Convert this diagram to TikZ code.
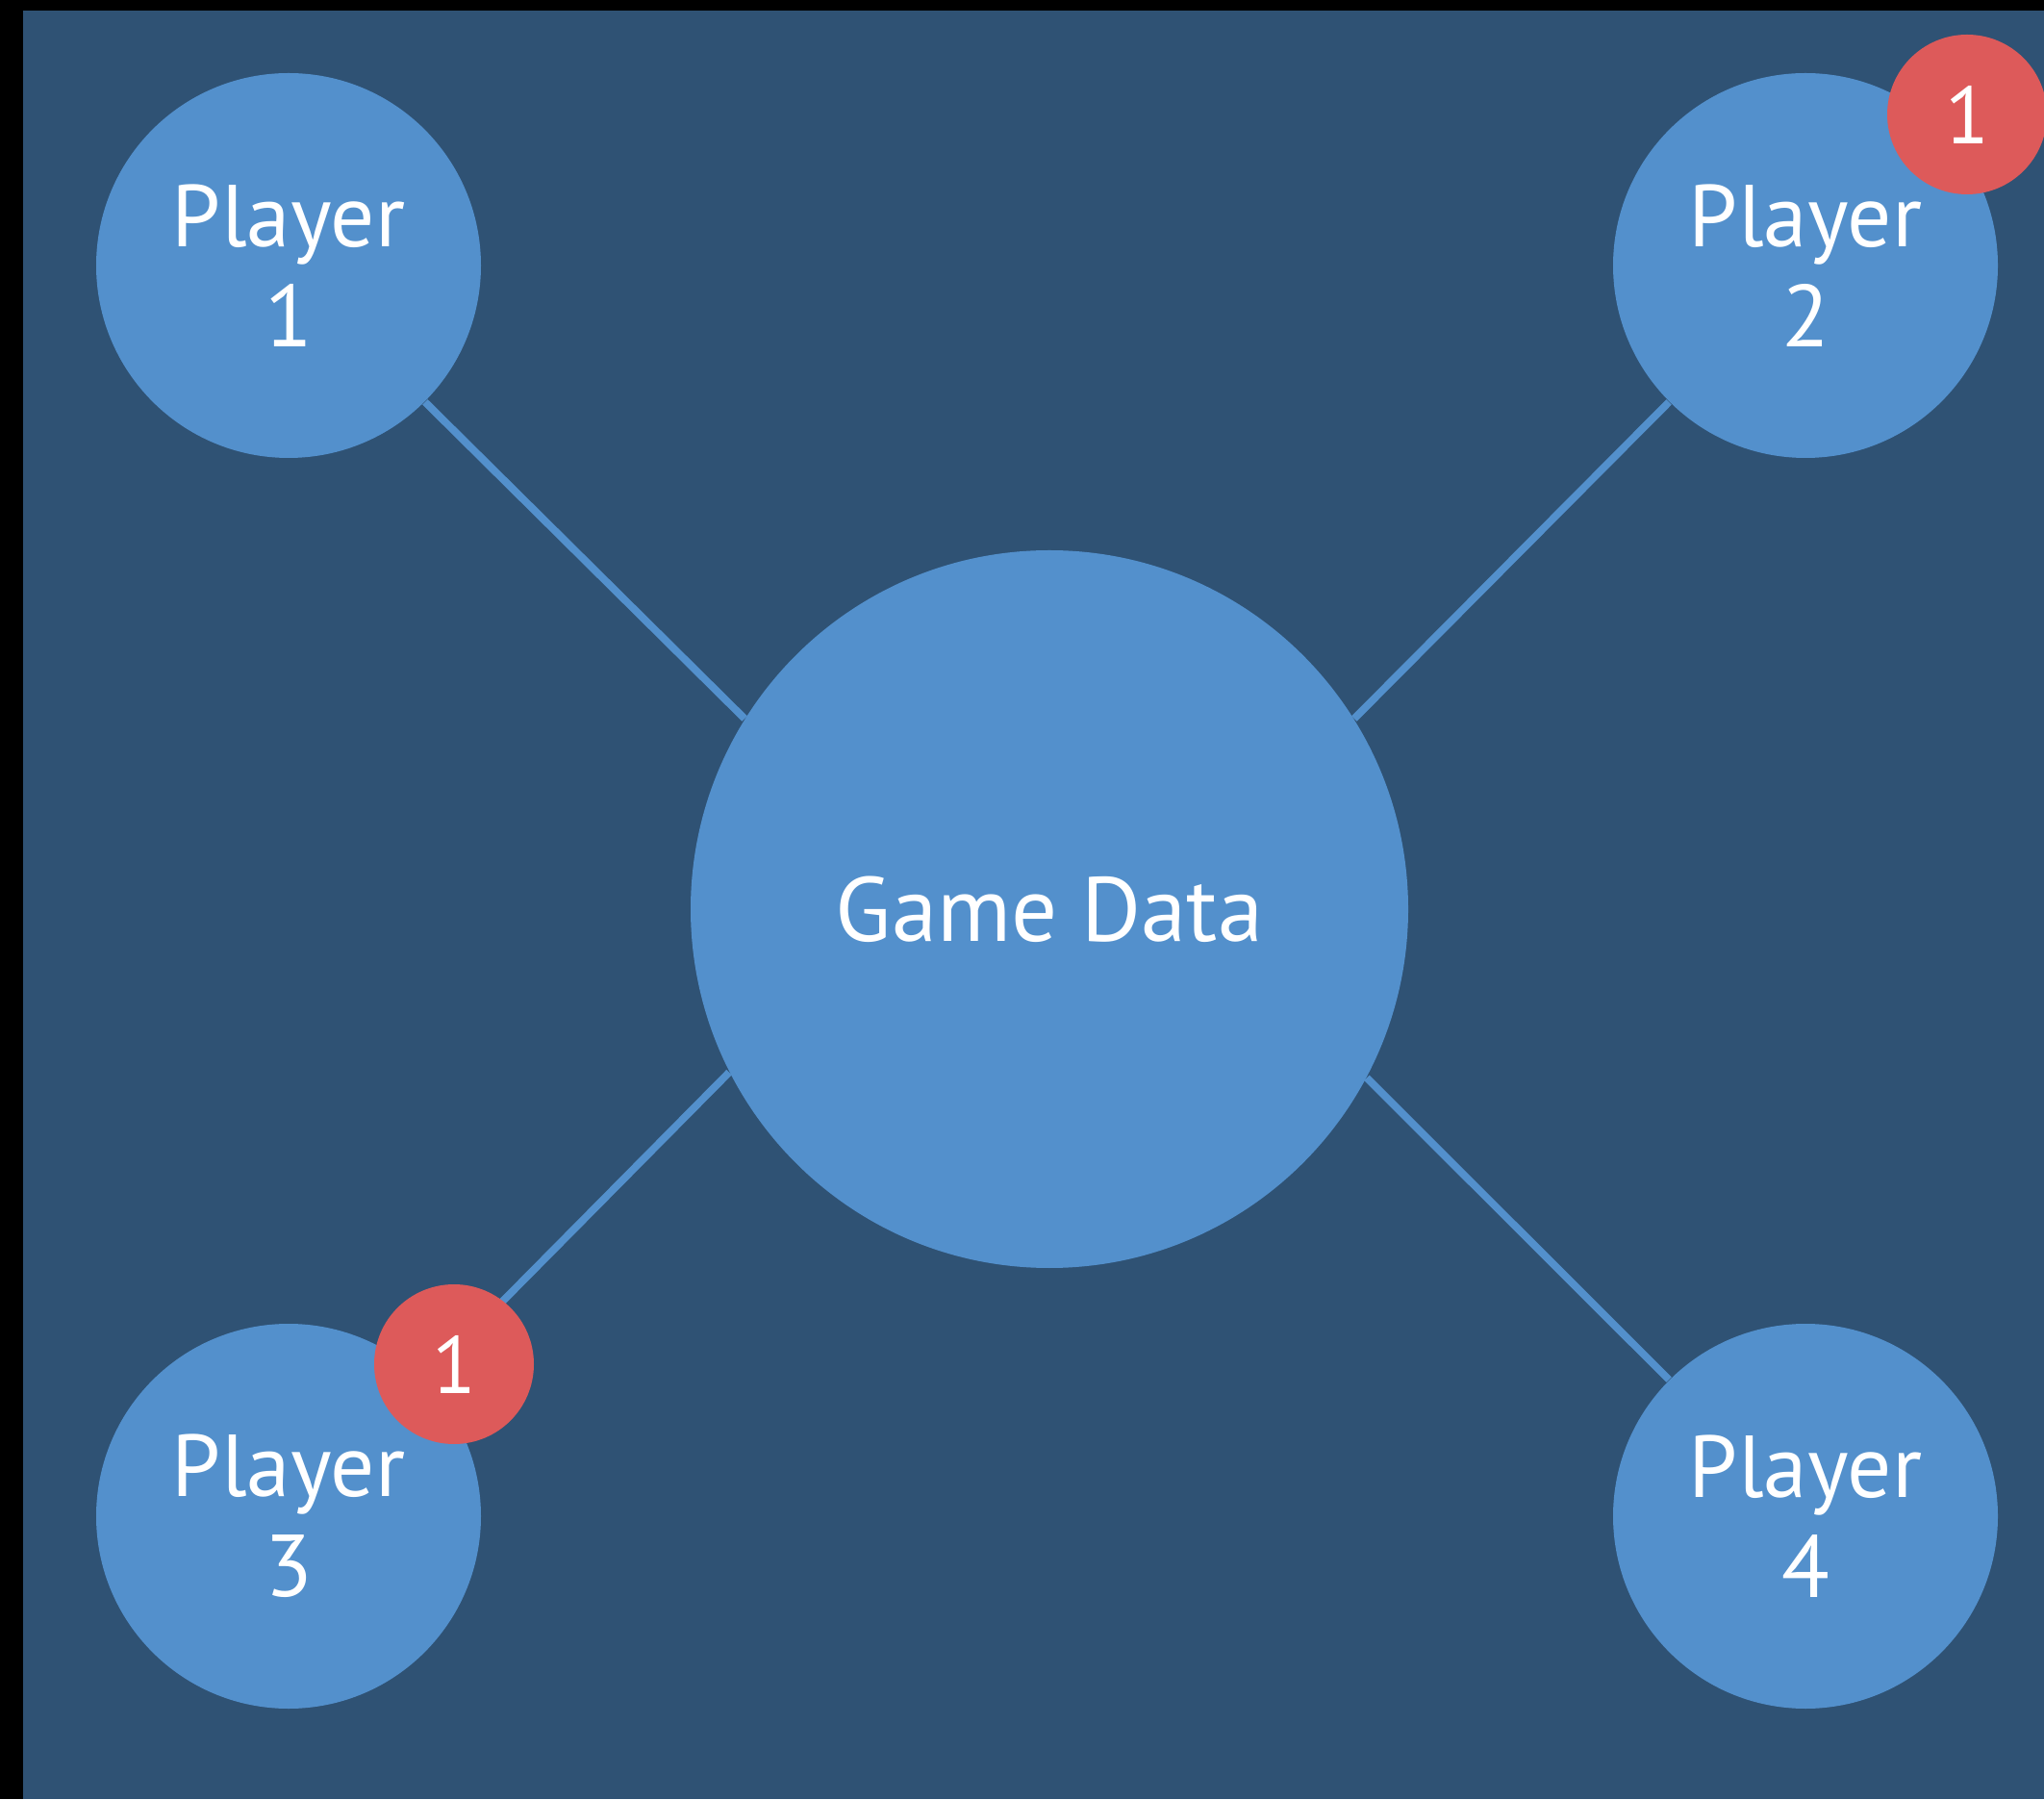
\documentclass[tikz,border=0pt]{standalone}
\usepackage{fontspec}
\setmainfont{PT Sans}
\definecolor{bgblue}{HTML}{2F5274}
\definecolor{nodeblue}{HTML}{5390CC}
\definecolor{badgered}{HTML}{DD5A5A}

\begin{document}
\begin{tikzpicture}[
  player/.style={circle, fill=nodeblue, minimum size=4cm, inner sep=0pt,
    text=white, align=center, font=\fontsize{26}{29.5}\selectfont},
  hub/.style={circle, fill=nodeblue, minimum size=7.46cm, inner sep=0pt,
    text=white, font=\fontsize{27}{29.5}\selectfont},
  badge/.style={circle, fill=badgered, minimum size=1.66cm, inner sep=0pt,
    text=white, font=\fontsize{24}{26}\selectfont},
  link/.style={draw=nodeblue, line width=2.2pt}]

  \useasboundingbox (0,0) rectangle (21.25,18.7);
  \fill (0,0) rectangle (21.25,18.7);
  \fill[bgblue] (0.24,0) rectangle (21.25,18.59);

\node [hub] (gd) at (10.91,9.25) {Game Data};

\node [player] (p1) at (3.0,15.94) {Player\\1};
\node [player] (p2) at (18.77,15.94) {Player\\2};
\node [player] (p3) at (3.0,2.94) {Player\\3};
\node [player] (p4) at (18.77,2.94) {Player\\4};

\draw[link] (p1.-45)--(gd.148);
\draw[link] (p2.-135)--(gd.32);
\draw[link] (p3.45)--(gd.207);
\draw[link] (p4.135)--(gd.-28);

%badges on top
\node [badge] (b2) at (20.45,17.51) {1};
\node [badge] (b3) at (4.72,4.52) {1};

\end{tikzpicture}
\end{document}
